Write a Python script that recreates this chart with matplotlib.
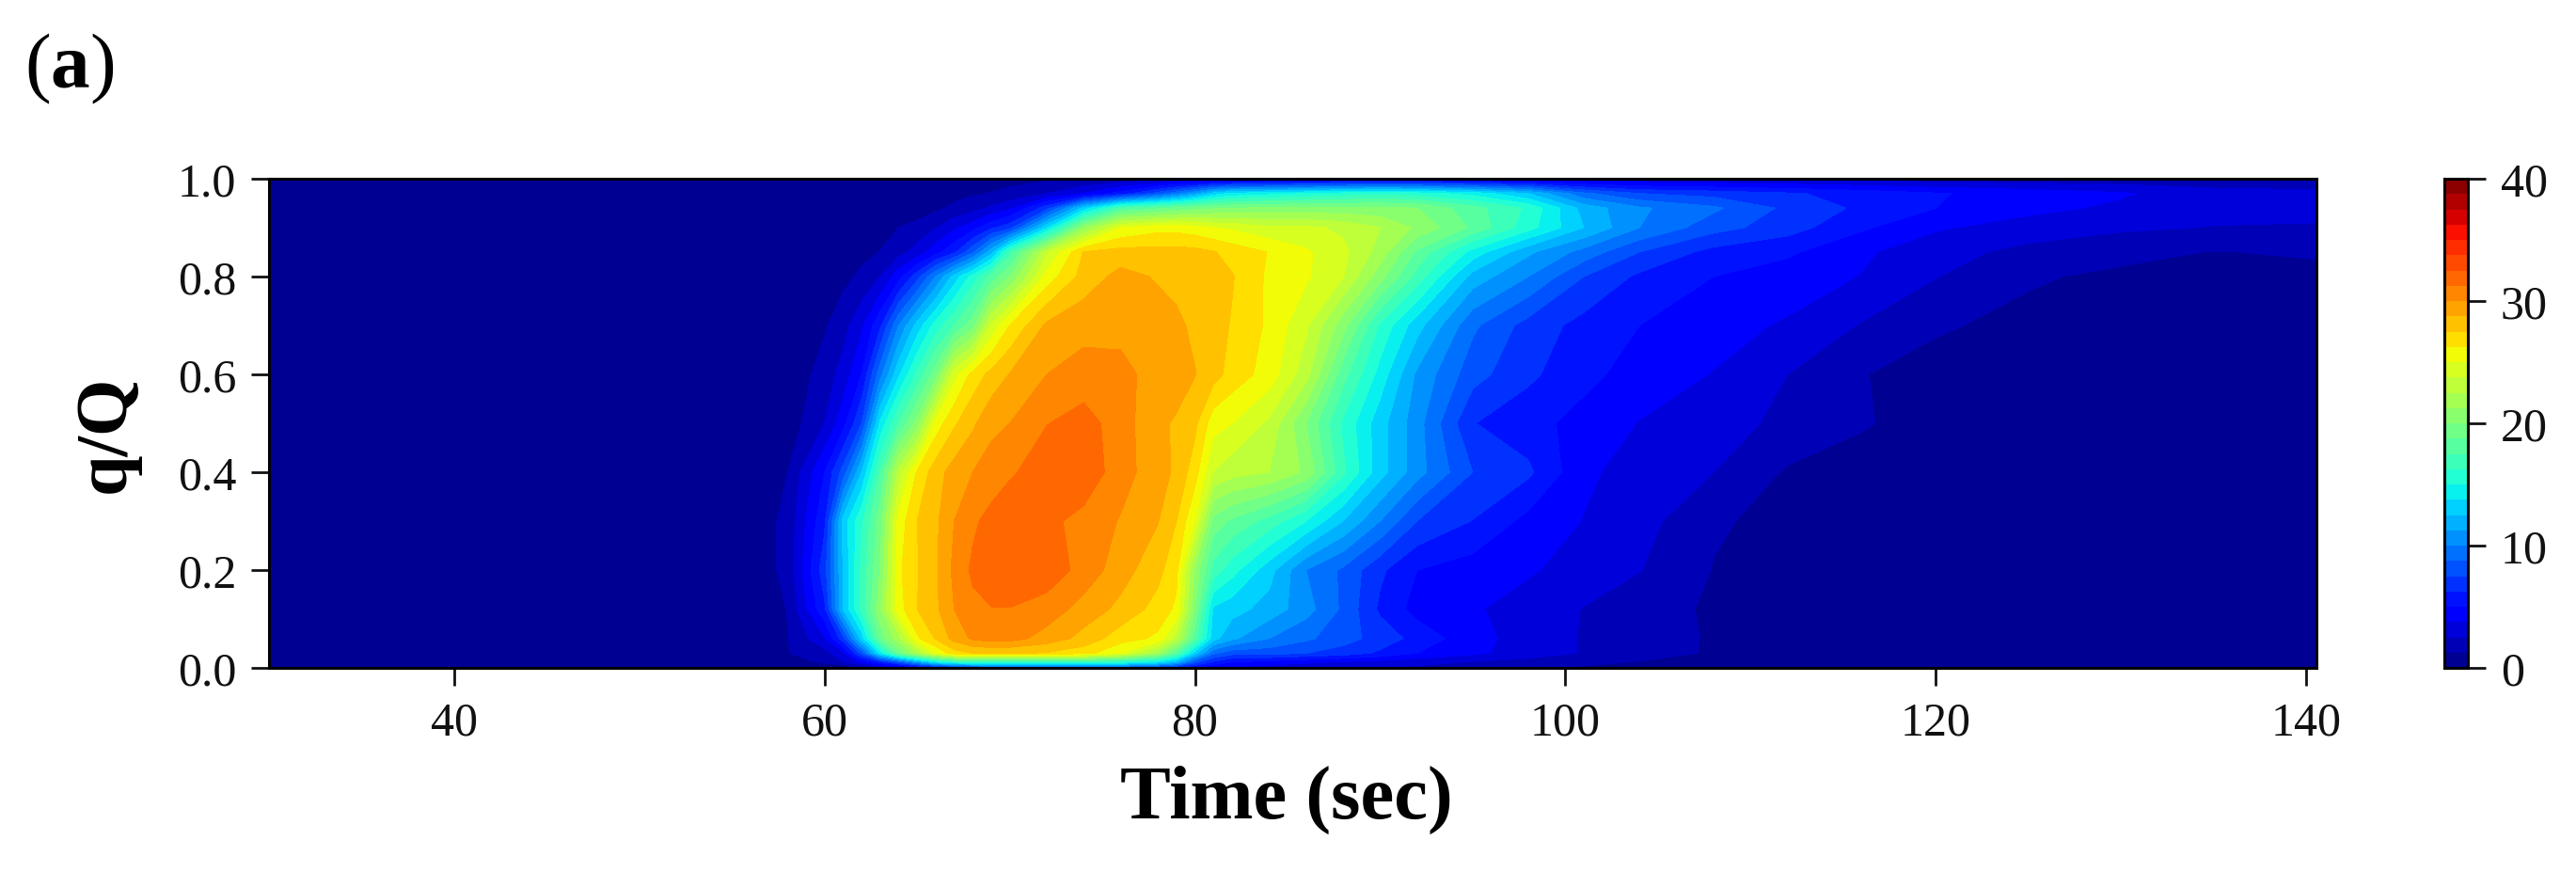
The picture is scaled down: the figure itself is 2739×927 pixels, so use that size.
import numpy as np
import matplotlib
matplotlib.use("Agg")
import matplotlib.pyplot as plt

plt.rcParams['font.family'] = ['Liberation Serif', 'DejaVu Serif']
plt.rcParams['mathtext.fontset'] = 'custom'
plt.rcParams['mathtext.bf'] = 'Liberation Serif:bold'
plt.rcParams['mathtext.rm'] = 'Liberation Serif'

time_s = [30, 56, 58, 60, 61, 62, 63, 64, 65, 66, 67, 68, 69, 70, 72, 74, 76, 78, 79, 80,
          81, 82, 84, 86, 88, 90, 92, 95, 98, 101, 104, 108, 112, 116, 120, 125, 130, 135, 140.56]
q_ratio = [0, 0.012, 0.03, 0.06, 0.12, 0.2, 0.3, 0.4, 0.5, 0.6, 0.7, 0.8, 0.85, 0.9, 0.94, 0.97, 1.0]

row_000 = [0, 0, 0, 0, .3, 1, 2, 3, 4, 5, 6, 7, 7.5, 8, 8, 8, 8, 6.5, 6, 5, 4, 3.6, 3, 2.8, 2.6, 2.4, 2.2, 1.8, 1.4, 1.1, .9, .6, .4, .3, .2, .1, .1, .1, .1]
row_001 = [0, 0, .6, 1.5, 2.5, 4, 6, 8, 11, 14, 15.5, 16, 16, 16, 16, 16, 15.5, 14, 12, 8, 6, 5, 4.5, 4, 3.6, 3.3, 3, 2.4, 2, 1.5, 1.2, 1, .7, .4, .3, .2, .1, .1, .1]
row_003 = [0, 0, 1.2, 2, 3.5, 8, 14, 19, 22, 25, 27, 27.5, 27.6, 27.6, 27.4, 26.8, 25, 21.5, 18, 13, 9, 8, 8, 7.5, 7, 6, 5, 4, 3.2, 2.4, 1.8, 1.1, .8, .5, .3, .2, .1, .1, .1]
row_006 = [0, .2, 1.2, 3.5, 7, 13, 19, 22, 26, 27.6, 29.2, 30.2, 30.6, 30.5, 29.5, 28.3, 26.8, 26, 23, 18, 13, 11.5, 10, 9, 8, 7, 5.8, 4.2, 3.2, 2.4, 1.7, 1.15, .8, .5, .3, .2, .1, .1, .1]
row_012 = [0, .3, 1.3, 6, 12.5, 16.5, 21, 25.7, 27.5, 28.5, 30, 30.9, 31.2, 31.2, 30.7, 29.5, 28.4, 27, 26, 20, 13.5, 13, 12, 10.5, 8.5, 6, 4.5, 3.9, 3.2, 2.45, 1.7, 1.1, .7, .5, .3, .2, .1, .1, .1]
row_020 = [0, .4, 1.6, 7, 12.5, 16.5, 20, 26, 27.4, 28.5, 30.3, 31.5, 32, 32.5, 32, 30.8, 29.3, 27.9, 26.6, 21, 17, 15.5, 13, 10, 8.5, 6.5, 5, 4.4, 3.9, 3.2, 2.55, 1.2, .8, .6, .4, .2, .1, .1, .1]
row_030 = [0, .4, 1.6, 6, 13, 16, 19.5, 25.5, 27.5, 28.5, 30, 31, 31.7, 32.5, 31.6, 30.8, 29.9, 28.8, 27.5, 25, 19.5, 18.5, 17, 15, 12.5, 10, 7.5, 6.2, 4.6, 3.7, 3, 1.4, .9, .6, .4, .2, .1, .1, .1]
row_040 = [0, .2, 1.25, 5, 8, 12.5, 17.5, 23, 26.4, 28.2, 29.3, 30, 30.5, 31, 32.2, 32.2, 30.5, 29.3, 28.5, 26.8, 23.7, 23, 22.5, 21, 16.5, 13, 10.5, 7.5, 6.5, 4, 3.2, 2.5, 1.1, .8, .5, .3, .2, .1, .1]
row_050 = [0, 0, .5, 2.5, 4.5, 7.5, 14, 17.5, 20.5, 25.5, 27.3, 28.5, 29.7, 30, 31.2, 31.8, 30.6, 29, 28.6, 27.8, 25.5, 25, 23.5, 20, 16, 13, 10.5, 6.3, 5.5, 4.5, 3.7, 3, 2.2, 1.35, .8, .4, .2, .1, .1]
row_060 = [0, 0, .3, 1.8, 3, 5, 9.5, 13.5, 16.5, 19.5, 24.5, 26.7, 27.9, 28.8, 30, 30.5, 30.3, 29.6, 29.3, 28.8, 28, 27, 25.7, 23, 18, 14.5, 11, 8, 6.5, 5.4, 4.4, 3.7, 2.5, 1.3, .8, .5, .3, .2, .1]
row_070 = [0, 0, .1, 1.1, 2, 3.5, 6, 10, 13, 15.5, 17.5, 19.5, 24, 26.3, 29, 29.6, 29.7, 29.4, 29, 28.5, 28, 27.4, 26, 24, 20.5, 16, 13, 9, 7, 5.8, 5, 4.2, 3.6, 2.4, 1.4, .9, .5, .3, .3]
row_080 = [0, 0, 0, .6, .9, 1.5, 2.5, 4.5, 7, 10, 13, 15.5, 18, 20, 25.5, 28, 29.2, 28.6, 28.4, 28.3, 28, 27.6, 26, 25.2, 23.8, 20.5, 17, 12, 10, 7.5, 6, 5, 4.4, 3.7, 2.55, 1.4, 1, .9, .9]
row_085 = [0, 0, 0, .3, .5, .9, 1.3, 2, 3, 4.5, 6, 8.5, 12, 17, 23.5, 27.6, 28, 28, 28, 27.9, 27.6, 27, 26.2, 25.2, 24.1, 22, 18.5, 14.5, 11.5, 9.5, 7.5, 5.8, 5.2, 3.95, 3, 2.1, 1.6, 1.2, 1.4]
row_090 = [0, 0, 0, 0, .1, .3, .6, 1.25, 1.7, 2.4, 3.5, 4.5, 6, 7, 13.5, 21, 25, 25.8, 25.8, 25.5, 25, 24.8, 24, 24, 23.5, 22.5, 21, 18.5, 15.5, 12.5, 10, 8, 6.8, 5.2, 3.9, 3.2, 2.7, 2.45, 2.4]
row_094 = [0, 0, 0, 0, 0, 0, .1, .2, .5, 1, 1.5, 2, 2.7, 3.5, 7, 13, 17.5, 18.5, 19, 19.5, 19.8, 20, 20.2, 20.3, 20.3, 20.3, 20, 18, 16, 12, 10.2, 9, 7.2, 6, 5, 4.1, 3.5, 2.9, 2.8]
row_097 = [0, 0, 0, 0, 0, 0, 0, .1, .3, .6, .9, 1.1, 1.3, 1.6, 2.5, 3.8, 5.5, 8, 9.5, 11, 13, 14, 14.5, 15, 15.5, 15.8, 15.5, 14.5, 12.5, 9, 7.5, 7, 6.4, 5.8, 5.1, 4.5, 3.9, 3, 2.8]
row_100 = [0, 0, 0, 0, 0, 0, 0, 0, .2, .4, .5, .6, .7, .8, 1, 1.2, 1.5, 1.8, 2, 2.2, 2.4, 2.6, 2.8, 3, 3.2, 3.5, 3.4, 3, 2.8, 2.6, 2.5, 2.3, 2.2, 2, 1.8, 1.7, 1.6, 1.6, 1.6]

density = np.array([row_000, row_001, row_003, row_006, row_012, row_020, row_030, row_040, row_050,
                    row_060, row_070, row_080, row_085, row_090, row_094, row_097, row_100])

levels = np.linspace(0, 40, 33)
x_ticks = [40, 60, 80, 100, 120, 140]
y_ticks = [0.0, 0.2, 0.4, 0.6, 0.8, 1.0]
cbar_ticks = [0, 10, 20, 30, 40]

W, H = 2739, 928
fig = plt.figure(figsize=(W / 100, H / 100), dpi=100)
ax = fig.add_axes([286 / W, 1 - 711 / H, (2463 - 286) / W, (711 - 191) / H])
cax = fig.add_axes([2599 / W, 1 - 711 / H, (2624 - 2599) / W, (711 - 191) / H])

cs = ax.contourf(time_s, q_ratio, density, levels=levels, cmap='jet', vmin=0, vmax=40)
ax.set_xlim(30, 140.56)
ax.set_ylim(0, 1)
ax.set_xticks(x_ticks)
ax.set_yticks(y_ticks)
ax.set_yticklabels([f"{v:.1f}" for v in y_ticks])
ax.tick_params(length=14, width=2, labelsize=36, pad=11, colors='#111111')
for s in ax.spines.values():
    s.set_linewidth(2.2)

ax.set_xlabel("Time (sec)", fontsize=58, fontweight='bold')
ax.xaxis.set_label_coords(0.497, -0.268, transform=ax.transAxes)
ax.xaxis.label.set_verticalalignment('center')
ax.set_ylabel("q/Q", fontsize=56, fontweight='bold')
ax.yaxis.set_label_coords(-0.0795, 0.48, transform=ax.transAxes)
ax.yaxis.label.set_verticalalignment('center')

cb = fig.colorbar(cs, cax=cax)
cb.set_ticks(cbar_ticks)
cb.ax.tick_params(length=14, width=2, labelsize=36, pad=11, colors='#111111')
cb.outline.set_linewidth(2.2)

fig.text(26 / W, 1 - 73 / H, r"($\mathbf{a}$)", fontsize=60, va='center', ha='left')

fig.savefig("out.png", dpi=100)
